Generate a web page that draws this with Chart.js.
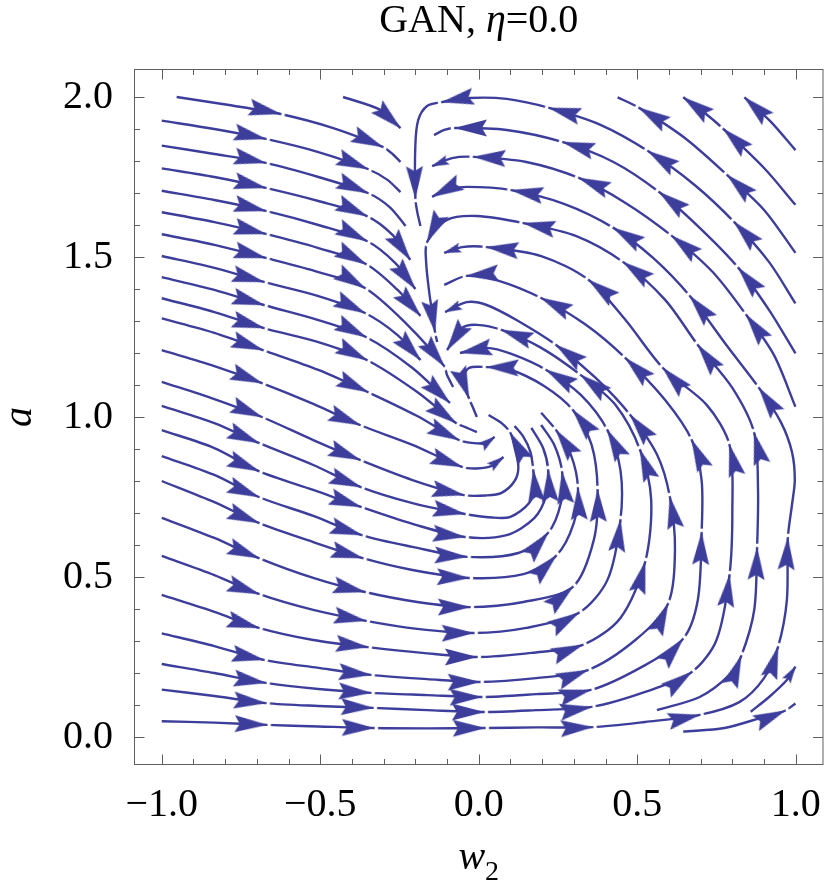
<!DOCTYPE html>
<html>
<head>
<meta charset="utf-8">
<script src="https://cdn.jsdelivr.net/npm/chart.js@4.4.1/dist/chart.umd.min.js"></script>
<style>
html,body{margin:0;padding:0;background:#ffffff;}
#wrap{width:830px;height:895px;position:relative;}
</style>
</head>
<body>
<div id="wrap"><canvas id="c" width="830" height="895"></canvas></div>
<script>
// ---------- DATA ----------
// Each streamline: points [w2, a, mark]; mark 1 = arrowhead tip, 2 = small arrowhead tip
const titleParts = [["GAN, ", false], ["η", true], ["=0.0", false]];
const xAxisName = "w";
const xAxisSub = "2";
const yAxisName = "a";
const xTickValues = [-1, -0.5, 0, 0.5, 1];
const yTickValues = [0, 0.5, 1, 1.5, 2];

// streams entering from the left that sink into the centre
const leftStreams = [
  [[-0.953,2.000],[-0.788,1.975],[-0.625,1.947,1],[-0.459,1.903],[-0.303,1.844,1],[-0.272,1.822],[-0.247,1.797]],
  [[-1,1.926],[-0.834,1.900],[-0.672,1.869,1],[-0.506,1.828],[-0.350,1.775,1],[-0.288,1.741],[-0.247,1.703]],
  [[-1,1.848],[-0.834,1.822],[-0.672,1.794,1],[-0.506,1.750],[-0.350,1.700,1],[-0.281,1.656],[-0.231,1.597]],
  [[-1,1.777],[-0.834,1.750],[-0.672,1.716,1],[-0.506,1.675],[-0.353,1.628,1],[-0.272,1.569],[-0.216,1.491,1]],
  [[-1,1.707],[-0.834,1.678],[-0.672,1.644,1],[-0.506,1.600],[-0.353,1.550,1],[-0.263,1.481],[-0.200,1.400,1]],
  [[-1,1.640],[-0.834,1.609],[-0.672,1.572,1],[-0.506,1.528],[-0.356,1.478,1],[-0.256,1.397],[-0.184,1.316,1]],
  [[-1,1.571],[-0.834,1.538],[-0.672,1.497,1],[-0.506,1.453],[-0.359,1.403,1],[-0.225,1.288],[-0.109,1.159,1],[-0.100,1.131],[-0.081,1.094]],
  [[-1,1.503],[-0.834,1.466],[-0.678,1.422,1],[-0.506,1.378],[-0.359,1.325,1],[-0.256,1.256],[-0.184,1.178,1]],
  [[-1,1.437],[-0.834,1.397],[-0.678,1.350,1],[-0.506,1.303],[-0.356,1.250,1],[-0.209,1.153],[-0.091,1.044,1]],
  [[-1,1.371],[-0.834,1.328],[-0.678,1.278,1],[-0.506,1.234],[-0.353,1.178,1],[-0.194,1.078],[-0.072,0.981,1],[-0.044,0.969],[-0.006,0.953]],
  [[-1,1.308],[-0.834,1.263],[-0.681,1.209,1],[-0.506,1.147],[-0.350,1.078,1],[-0.194,1.003],[-0.063,0.928,1],[-0.022,0.919],[0.025,0.919],[0.050,0.938,2]],
  [[-1,1.209],[-0.834,1.159],[-0.684,1.106,1],[-0.522,1.041],[-0.375,0.975,1],[-0.209,0.913],[-0.053,0.844,1],[-0.006,0.839],[0.041,0.847],[0.078,0.875,2]]
];

// streams that wind counter-clockwise round the equilibrium
const spiralStreams = [
  [[-1,1.110],[-0.834,1.056],[-0.684,1.000,1],[-0.522,0.928],[-0.375,0.866,1],[-0.209,0.803],[-0.047,0.756,1],[0.025,0.755],[0.072,0.763],[0.113,0.800],[0.125,0.844],[0.113,0.906],[0.100,0.950,1],[0.072,0.981],[0.031,1.006]],
  [[-1,1.035],[-0.834,0.981],[-0.694,0.919,1],[-0.522,0.850],[-0.372,0.781,1],[-0.209,0.731],[-0.044,0.697,1],[0.041,0.686],[0.100,0.688],[0.159,0.731],[0.175,0.781],[0.172,0.834,1],[0.163,0.891],[0.141,0.938],[0.113,0.972]],
  [[-1,0.959],[-0.834,0.903],[-0.694,0.831,1],[-0.522,0.772],[-0.372,0.719,1],[-0.209,0.666],[-0.044,0.625,1],[0.088,0.631],[0.175,0.684],[0.213,0.756],[0.219,0.834,1],[0.203,0.903],[0.166,0.966]],
  [[-1,0.878],[-0.834,0.819],[-0.694,0.750,1],[-0.522,0.691],[-0.369,0.631,1],[-0.209,0.594],[-0.038,0.563,1],[0.125,0.575],[0.219,0.638,1],[0.259,0.731],[0.263,0.828,1],[0.238,0.913],[0.197,0.975]],
  [[-1,0.800],[-0.834,0.734],[-0.694,0.669,1],[-0.522,0.609],[-0.366,0.559,1],[-0.209,0.522],[-0.031,0.497,1],[0.141,0.509],[0.244,0.566,1],[0.300,0.669],[0.313,0.778,1],[0.291,0.881],[0.244,0.959,1],[0.197,1.013]],
  [[-1,0.685],[-0.834,0.622],[-0.694,0.559,1],[-0.522,0.497],[-0.359,0.453,1],[-0.194,0.422],[-0.028,0.406,1],[0.141,0.422],[0.297,0.469,1],[0.363,0.616],[0.375,0.772,1],[0.356,0.913],[0.297,1.022,1],[0.206,1.097],[0.094,1.150],[0.025,1.156,1],[-0.031,1.153],[-0.050,1.116],[-0.031,1.059,1],[-0.019,1.031],[-0.006,1.000]],
  [[-1,0.566],[-0.834,0.506],[-0.694,0.447,1],[-0.522,0.397],[-0.356,0.363,1],[-0.194,0.338],[-0.016,0.325,1],[0.150,0.341],[0.316,0.388,1],[0.406,0.491],[0.447,0.678,1],[0.447,0.834],[0.406,0.959,1],[0.322,1.069],[0.213,1.147,1],[0.103,1.197],[0.025,1.216],[-0.059,1.200,1]],
  [[-1,0.444],[-0.834,0.391],[-0.694,0.341,1],[-0.522,0.303],[-0.350,0.281,1],[-0.178,0.263],[-0.006,0.250,1],[0.166,0.263],[0.328,0.288,1],[0.447,0.372],[0.525,0.547,1],[0.544,0.741],[0.509,0.897,1],[0.431,1.038],[0.322,1.131,1],[0.197,1.216],[0.072,1.272,1],[-0.006,1.288],[-0.053,1.278],[-0.100,1.209,1]],
  [[-1,0.324],[-0.834,0.284],[-0.678,0.241,1],[-0.506,0.216],[-0.341,0.194,1],[-0.163,0.181],[0.003,0.172,1],[0.181,0.184],[0.344,0.209,1],[0.494,0.303],[0.597,0.416,1],[0.619,0.584],[0.603,0.750,1],[0.563,0.881],[0.478,1.006,1],[0.369,1.122],[0.244,1.225,1],[0.119,1.303],[0.025,1.350],[-0.038,1.359],[-0.106,1.328,2]],
  [[-1,0.228],[-0.834,0.200],[-0.672,0.169,1],[-0.506,0.150],[-0.341,0.138,1],[-0.163,0.131],[0.009,0.125,1],[0.181,0.134],[0.353,0.147,1],[0.509,0.216],[0.644,0.306,1],[0.691,0.428],[0.703,0.638,1],[0.703,0.803],[0.672,0.928,1],[0.588,1.053],[0.463,1.184,1],[0.338,1.288],[0.197,1.372,1],[0.056,1.428],[-0.038,1.441,1],[-0.109,1.413]],
  [[-1,0.148],[-0.834,0.128],[-0.672,0.106,1],[-0.506,0.097],[-0.334,0.091,1],[-0.163,0.084],[0.016,0.078,1],[0.181,0.084],[0.356,0.094,1],[0.525,0.141],[0.672,0.203,1],[0.750,0.303],[0.791,0.506,1],[0.800,0.709],[0.791,0.913,1],[0.719,1.038],[0.581,1.153,1],[0.463,1.303],[0.347,1.428,1],[0.197,1.503],[0.025,1.531,1],[-0.053,1.531],[-0.109,1.513,2]],
  [[0.562,0.084],[0.697,0.125],[0.791,0.194],[0.828,0.253,1],[0.869,0.397],[0.878,0.591,1],[0.881,0.772],[0.869,0.950,1],[0.800,1.091],[0.691,1.225,1],[0.588,1.366],[0.456,1.484,1],[0.306,1.566],[0.141,1.606,1],[-0.006,1.628],[-0.100,1.616],[-0.163,1.547,1],[-0.166,1.484],[-0.156,1.388],[-0.144,1.309],[-0.138,1.266,1],[-0.131,1.234]],
  [[-1,0.049],[-0.834,0.045],[-0.669,0.038,1],[-0.506,0.033],[-0.331,0.028,1],[-0.163,0.027],[0.019,0.028,1],[0.181,0.030],[0.359,0.031,1],[0.525,0.047],[0.697,0.069,1],[0.822,0.109],[0.900,0.184],[0.944,0.281,1],[0.972,0.428],[0.975,0.622,1],[0.988,0.725],[0.997,0.803],[0.988,0.891],[0.953,0.984],[0.884,1.091,1],[0.781,1.225],[0.666,1.378,1],[0.550,1.497],[0.425,1.591,1],[0.269,1.666],[0.103,1.709,1],[-0.038,1.719],[-0.106,1.709],[-0.147,1.688,1]]
];

// arcs entering from the right edge and turning left along the top
const upperArcStreams = [
  [[0.999,1.834],[0.921,1.923],[0.838,1.999,1]],
  [[0.999,1.663],[0.900,1.778],[0.772,1.900,1],[0.713,1.950],[0.645,1.999,1]],
  [[0.999,1.513],[0.900,1.647],[0.784,1.756,1],[0.650,1.872],[0.506,1.966,1],[0.438,1.999]],
  [[0.999,1.355],[0.916,1.484],[0.806,1.609,1],[0.681,1.725],[0.534,1.831,1],[0.384,1.913],[0.222,1.966,1],[0.088,1.994],[-0.028,1.997],[-0.116,1.984,1],[-0.163,1.972],[-0.191,1.928],[-0.200,1.850],[-0.200,1.684,1],[-0.194,1.641],[-0.184,1.597]],
  [[0.999,1.199],[0.916,1.334],[0.819,1.466,1],[0.697,1.591],[0.569,1.703,1],[0.425,1.797],[0.266,1.859,1],[0.088,1.897],[-0.075,1.903,1],[-0.109,1.897],[-0.141,1.881]],
  [[0.999,1.032],[0.931,1.194],[0.844,1.319,1],[0.738,1.453],[0.609,1.566,1],[0.463,1.669],[0.316,1.747,1],[0.150,1.797],[-0.016,1.813,1],[-0.084,1.809],[-0.147,1.784,2]],
  [[-0.428,2.000],[-0.309,1.959],[-0.247,1.903,1]]
];

// short pieces in the lower right corner
const cornerStreams = [
  [[0.645,0.017],[0.775,0.028],[0.900,0.063],[0.966,0.082,1],[0.999,0.105]],
  [[0.858,0.079],[0.916,0.125],[0.972,0.178],[0.999,0.220,2]]
];

// ---------- STYLE ----------
const STREAM_COLOR = 'rgb(61,61,155)';
const FRAME_COLOR = '#5f5f5f';
const SERIF = '"Liberation Serif", "Times New Roman", serif';
const FONT_SIZE = 40;

function makeArrow(len, half, notch, gapLen) {
  const S = Math.ceil(len * 2 + 12);
  const c = document.createElement('canvas');
  c.width = S; c.height = S;
  const g = c.getContext('2d');
  const cx = S / 2, cy = S / 2;
  g.fillStyle = '#ffffff';
  g.fillRect(cx + 0.8, cy - 2.8, gapLen, 5.6);
  g.fillStyle = STREAM_COLOR;
  g.beginPath();
  g.moveTo(cx + 0.8, cy);
  g.lineTo(cx - len, cy - half);
  g.lineTo(cx - len + notch, cy);
  g.lineTo(cx - len, cy + half);
  g.closePath();
  g.fill();
  return c;
}
const bigArrow = makeArrow(32, 8.4, 5, 3.4);
const smallArrow = makeArrow(17, 5, 3, 2.6);

function tipAngle(ctx) {
  const d = ctx.dataset.data, i = ctx.dataIndex;
  const sx = ctx.chart.scales.x, sy = ctx.chart.scales.y;
  const p0 = d[Math.max(0, i - 1)], p1 = d[Math.min(d.length - 1, i + 1)];
  const dx = sx.getPixelForValue(p1.x) - sx.getPixelForValue(p0.x);
  const dy = sy.getPixelForValue(p1.y) - sy.getPixelForValue(p0.y);
  return Math.atan2(dy, dx) * 180 / Math.PI;
}

const allStreams = [].concat(leftStreams, spiralStreams, upperArcStreams, cornerStreams);
const datasets = allStreams.map(s => ({
  data: s.map(p => ({ x: p[0], y: p[1], m: p[2] || 0 })),
  showLine: true,
  borderColor: STREAM_COLOR,
  backgroundColor: STREAM_COLOR,
  borderWidth: 2.4,
  tension: 0.3,
  pointRadius: ctx => (ctx.raw && ctx.raw.m ? 2 : 0),
  pointStyle: ctx => (ctx.raw && ctx.raw.m === 2 ? smallArrow : bigArrow),
  pointRotation: ctx => (ctx.raw && ctx.raw.m ? tipAngle(ctx) : 0)
}));

function fmt(v) {
  const s = Math.abs(v).toFixed(1);
  return v < 0 ? '\u2212' + s : s;
}

const decor = {
  id: 'decor',
  afterDraw(chart) {
    const { ctx, chartArea: ca, scales } = chart;
    const sx = scales.x, sy = scales.y;
    ctx.save();
    // frame
    const L = ca.left - 0.5, R = ca.right + 0.5, T = ca.top - 0.5, B = ca.bottom + 0.5;
    ctx.strokeStyle = FRAME_COLOR;
    ctx.lineWidth = 1;
    ctx.strokeRect(L, T, R - L, B - T);
    // inward ticks
    ctx.beginPath();
    for (let i = -10; i <= 10; i++) {
      const px = Math.round(sx.getPixelForValue(i / 10)) + 0.5;
      const len = (i % 5 === 0) ? 10 : 5.5;
      ctx.moveTo(px, B); ctx.lineTo(px, B - len);
      ctx.moveTo(px, T); ctx.lineTo(px, T + len);
    }
    for (let i = 0; i <= 20; i++) {
      const py = Math.round(sy.getPixelForValue(i / 10)) + 0.5;
      const len = (i % 5 === 0) ? 10 : 5.5;
      ctx.moveTo(L, py); ctx.lineTo(L + len, py);
      ctx.moveTo(R, py); ctx.lineTo(R - len, py);
    }
    ctx.stroke();

    ctx.fillStyle = '#000';
    ctx.textBaseline = 'alphabetic';
    const cxMid = (ca.left + ca.right) / 2;
    // title
    let total = 0;
    const widths = titleParts.map(([t, it]) => {
      ctx.font = (it ? 'italic ' : '') + FONT_SIZE + 'px ' + SERIF;
      const w = ctx.measureText(t).width; total += w; return w;
    });
    let x0 = cxMid - total / 2;
    titleParts.forEach(([t, it], k) => {
      ctx.font = (it ? 'italic ' : '') + FONT_SIZE + 'px ' + SERIF;
      ctx.fillText(t, x0, 32);
      x0 += widths[k];
    });
    // x axis label w2
    ctx.font = 'italic ' + FONT_SIZE + 'px ' + SERIF;
    const ww = ctx.measureText(xAxisName).width;
    ctx.font = '28px ' + SERIF;
    const sw = ctx.measureText(xAxisSub).width;
    let xl = cxMid - (ww + sw) / 2;
    ctx.font = 'italic ' + FONT_SIZE + 'px ' + SERIF;
    ctx.fillText(xAxisName, xl, 869);
    ctx.font = '28px ' + SERIF;
    ctx.fillText(xAxisSub, xl + ww, 880);
    // y axis label a
    ctx.save();
    ctx.translate(31, (ca.top + ca.bottom) / 2);
    ctx.rotate(-Math.PI / 2);
    ctx.font = 'italic ' + FONT_SIZE + 'px ' + SERIF;
    ctx.textAlign = 'center';
    ctx.fillText(yAxisName, 0, 0);
    ctx.restore();
    ctx.restore();
  }
};

new Chart(document.getElementById('c'), {
  type: 'scatter',
  data: { datasets },
  options: {
    responsive: false,
    animation: false,
    devicePixelRatio: 1,
    events: [],
    layout: { padding: { top: 70, right: 1, left: 0, bottom: 0 } },
    plugins: { legend: { display: false }, tooltip: { enabled: false }, title: { display: false } },
    scales: {
      x: {
        type: 'linear', min: -1.084375, max: 1.084375,
        grid: { display: false }, border: { display: false },
        afterBuildTicks: s => { s.ticks = xTickValues.map(v => ({ value: v })); },
        afterFit: s => { s.height = 131; },
        ticks: { color: '#000', padding: 9, maxRotation: 0, autoSkip: false,
                 font: { family: SERIF, size: FONT_SIZE }, callback: v => fmt(v) }
      },
      y: {
        type: 'linear', min: -0.084375, max: 2.084375,
        grid: { display: false }, border: { display: false },
        afterBuildTicks: s => { s.ticks = yTickValues.map(v => ({ value: v })); },
        afterFit: s => { s.width = 135; },
        ticks: { color: '#000', padding: 14, autoSkip: false,
                 font: { family: SERIF, size: FONT_SIZE }, callback: v => fmt(v) }
      }
    }
  },
  plugins: [decor]
});
</script>
</body>
</html>
